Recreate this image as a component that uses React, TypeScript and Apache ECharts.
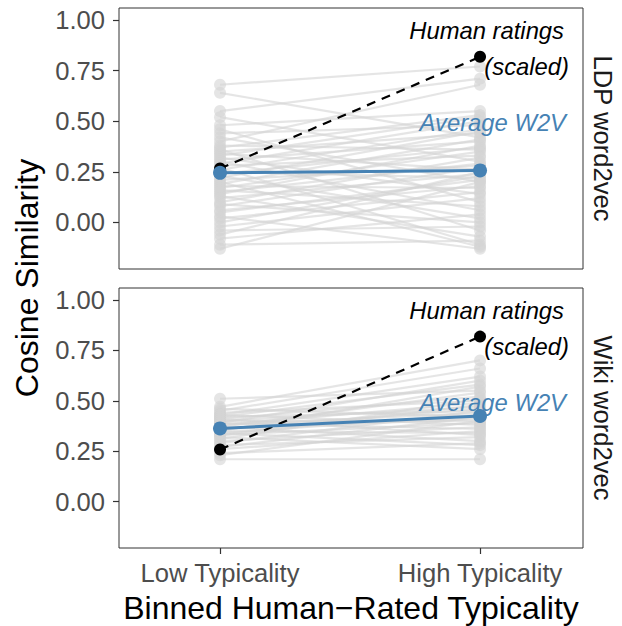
import React, { useEffect, useRef } from "react";
import * as echarts from "echarts";

const categories = ["Low Typicality", "High Typicality"];
const yTicks = [0, 0.25, 0.5, 0.75, 1];
const panelNames = ["LDP word2vec", "Wiki word2vec"];

const ldpLow = [0.68, 0.64, 0.55, 0.52, 0.48, 0.46, 0.44, 0.42, 0.40, 0.38, 0.37, 0.36, 0.35, 0.34, 0.33, 0.32, 0.31, 0.30, 0.29, 0.28, 0.27, 0.26, 0.25, 0.24, 0.23, 0.22, 0.21, 0.20, 0.19, 0.18, 0.17, 0.16, 0.15, 0.14, 0.13, 0.12, 0.10, 0.09, 0.08, 0.06, 0.05, 0.03, 0.02, 0.00, -0.02, -0.04, -0.06, -0.08, -0.11, -0.13];
const ldpHigh = [0.77, 0.42, 0.71, 0.30, 0.55, 0.10, 0.48, 0.20, 0.68, 0.36, 0.53, -0.04, 0.44, 0.26, 0.52, 0.14, 0.40, 0.06, 0.50, 0.33, -0.11, 0.46, 0.22, 0.37, 0.02, 0.45, 0.28, -0.12, 0.41, 0.17, 0.35, 0.08, 0.29, 0.38, -0.07, 0.24, 0.32, 0.00, 0.27, 0.18, 0.21, -0.13, 0.15, 0.23, 0.12, -0.02, 0.25, 0.04, -0.09, 0.20];

const wikiLow = [0.51, 0.47, 0.46, 0.45, 0.44, 0.43, 0.43, 0.42, 0.42, 0.41, 0.41, 0.40, 0.40, 0.39, 0.39, 0.38, 0.38, 0.37, 0.37, 0.36, 0.36, 0.35, 0.35, 0.34, 0.34, 0.33, 0.33, 0.32, 0.31, 0.30, 0.29, 0.28, 0.27, 0.26, 0.24, 0.23, 0.21];
const wikiHigh = [0.55, 0.70, 0.42, 0.66, 0.50, 0.38, 0.62, 0.45, 0.58, 0.33, 0.52, 0.47, 0.40, 0.60, 0.36, 0.49, 0.44, 0.30, 0.54, 0.41, 0.46, 0.34, 0.57, 0.43, 0.28, 0.48, 0.39, 0.26, 0.51, 0.37, 0.45, 0.32, 0.42, 0.35, 0.29, 0.40, 0.21];

const ldpAverage = [0.245, 0.257];
const wikiAverage = [0.363, 0.425];
const ldpHuman = [0.266, 0.818];
const wikiHuman = [0.258, 0.818];

const FONT = '"Liberation Sans", Arial, Helvetica, sans-serif';

export default function App() {
  const ref = useRef<HTMLDivElement>(null);

  useEffect(() => {
    if (!ref.current) return;
    const chart = echarts.init(ref.current, undefined, { renderer: "svg" });

    const panels = [
      { low: ldpLow, high: ldpHigh, avg: ldpAverage, human: ldpHuman },
      { low: wikiLow, high: wikiHigh, avg: wikiAverage, human: wikiHuman },
    ];

    const grids = [
      { left: 119, top: 8, width: 464, height: 261 },
      { left: 119, top: 288, width: 464, height: 260 },
    ].map((g) => ({
      ...g,
      show: true,
      borderColor: "#333333",
      borderWidth: 1,
      backgroundColor: "transparent",
      containLabel: false,
    }));

    const xAxes = [0, 1].map((i) => ({
      type: "value",
      gridIndex: i,
      position: "bottom",
      min: -0.3885,
      max: 1.396,
      splitLine: { show: false },
      axisLine: { show: false, onZero: false },
      axisTick: {
        show: i === 1,
        customValues: [0, 1],
        length: 6,
        lineStyle: { color: "#333333", width: 1.2 },
      },
      axisLabel: {
        show: i === 1,
        customValues: [0, 1],
        formatter: (v: number) => categories[Math.round(v)] ?? "",
        fontSize: 25.6,
        color: "#4d4d4d",
        fontFamily: FONT,
        margin: 12,
      },
    }));

    const yAxes = [0, 1].map((i) => ({
      type: "value",
      gridIndex: i,
      position: "left",
      min: -0.23,
      max: 1.059,
      splitLine: { show: false },
      axisLine: { show: false, onZero: false },
      axisTick: {
        show: true,
        customValues: yTicks,
        length: 6,
        lineStyle: { color: "#333333", width: 1.2 },
      },
      axisLabel: {
        customValues: yTicks,
        formatter: (v: number) => v.toFixed(2),
        fontSize: 25.6,
        color: "#4d4d4d",
        fontFamily: FONT,
        margin: 14,
      },
    }));

    const series: any[] = [];
    panels.forEach((p, pi) => {
      p.low.forEach((lv, k) => {
        series.push({
          type: "line",
          xAxisIndex: pi,
          yAxisIndex: pi,
          silent: true,
          data: [
            [0, lv],
            [1, p.high[k]],
          ],
          symbol: "circle",
          symbolSize: 12,
          lineStyle: { color: "rgba(212,212,212,0.6)", width: 2.2 },
          itemStyle: { color: "rgba(212,212,212,0.6)", borderWidth: 0 },
          z: 2,
        });
      });
      series.push({
        type: "line",
        xAxisIndex: pi,
        yAxisIndex: pi,
        silent: true,
        data: p.human.map((v, k) => [k, v]),
        symbol: "circle",
        symbolSize: 12,
        lineStyle: { color: "#000000", width: 2.2, type: [9, 7] },
        itemStyle: { color: "#000000", borderWidth: 0 },
        z: 3,
      });
      series.push({
        type: "line",
        xAxisIndex: pi,
        yAxisIndex: pi,
        silent: true,
        data: p.avg.map((v, k) => [k, v]),
        symbol: "circle",
        symbolSize: 14,
        lineStyle: { color: "#4682B4", width: 3 },
        itemStyle: { color: "#4682B4", borderWidth: 0 },
        z: 4,
      });
    });

    const annot = (x: number, y: number, text: string, color: string) => ({
      type: "text",
      x,
      y,
      silent: true,
      z: 100,
      style: {
        text,
        fill: color,
        fontSize: 23.8,
        fontStyle: "italic",
        fontFamily: FONT,
        textAlign: "right",
        textVerticalAlign: "middle",
      },
    });

    const graphic: any[] = [];
    [0, 280].forEach((dy) => {
      graphic.push(annot(564, 30 + dy, "Human ratings", "#000000"));
      graphic.push(annot(569, 66 + dy, "(scaled)", "#000000"));
      graphic.push(annot(566, 122 + dy, "Average W2V", "#4682B4"));
    });
    graphic.push({
      type: "text",
      x: 27,
      y: 278,
      rotation: Math.PI / 2,
      silent: true,
      style: {
        text: "Cosine Similarity",
        fill: "#000000",
        fontSize: 32,
        fontFamily: FONT,
        textAlign: "center",
        textVerticalAlign: "middle",
      },
    });
    graphic.push({
      type: "text",
      x: 351,
      y: 608,
      silent: true,
      style: {
        text: "Binned Human\u2212Rated Typicality",
        fill: "#000000",
        fontSize: 32,
        fontFamily: FONT,
        textAlign: "center",
        textVerticalAlign: "middle",
      },
    });
    panelNames.forEach((name, i) => {
      graphic.push({
        type: "text",
        x: 603,
        y: i === 0 ? 138.5 : 418,
        rotation: -Math.PI / 2,
        silent: true,
        style: {
          text: name,
          fill: "#1a1a1a",
          fontSize: 25.6,
          fontFamily: FONT,
          textAlign: "center",
          textVerticalAlign: "middle",
        },
      });
    });

    chart.setOption({
      animation: false,
      backgroundColor: "#ffffff",
      textStyle: { fontFamily: FONT },
      grid: grids,
      xAxis: xAxes,
      yAxis: yAxes,
      series,
      graphic,
    });

    return () => chart.dispose();
  }, []);

  return (
    <div
      ref={ref}
      style={{ position: "fixed", left: 0, top: 0, width: 622, height: 626 }}
    />
  );
}
